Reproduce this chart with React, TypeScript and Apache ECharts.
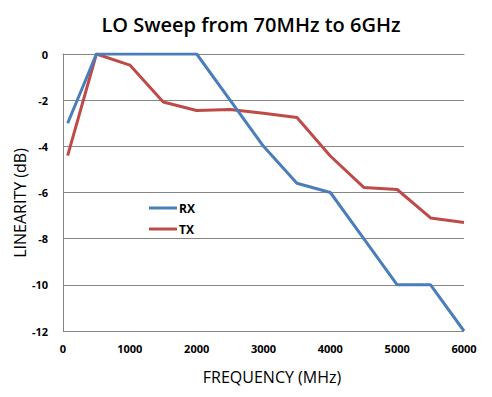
import React, { useEffect, useRef } from "react";
import * as echarts from "echarts";

const freqMHz = [70, 500, 1000, 1500, 2000, 2500, 3000, 3500, 4000, 4500, 5000, 5500, 6000];
const rxValues = [-3, 0, 0, 0, 0, -2, -4, -5.6, -6, -8, -10, -10, -12];
const txValues = [-4.4, 0, -0.48, -2.08, -2.45, -2.4, -2.57, -2.75, -4.42, -5.78, -5.87, -7.1, -7.3];
const seriesNames = ["RX", "TX"];
const title = "LO Sweep from 70MHz to 6GHz";
const xName = "FREQUENCY (MHz)";
const yName = "LINEARITY (dB)";

export default function App() {
  const ref = useRef<HTMLDivElement>(null);
  useEffect(() => {
    if (!ref.current) return;
    const chart = echarts.init(ref.current, undefined, { renderer: "svg" });
    const font = "'Open Sans', 'Liberation Sans', sans-serif";
    const mk = (vals: number[]) => freqMHz.map((f, i) => [f, vals[i]]);
    chart.setOption({
      animation: false,
      backgroundColor: "#fff",
      title: {
        text: title,
        left: 246,
        textAlign: "center",
        top: 9,
        textStyle: { fontFamily: font, fontSize: 20, fontWeight: 600, color: "#000" },
      },
      legend: {
        orient: "vertical",
        left: 149,
        top: 202,
        padding: 0,
        itemWidth: 28,
        itemHeight: 14,
        itemGap: 9,
        data: seriesNames.map((n) => ({ name: n, icon: "path://M0,6 L28,6 L28,9 L0,9 Z" })),
        textStyle: { fontFamily: font, fontSize: 12, fontWeight: "bold", color: "#000", padding: [0, 0, 0, -3] },
      },
      graphic: [
        {
          type: "text",
          x: 272,
          y: 377,
          style: {
            text: xName,
            fontFamily: font,
            fontSize: 16,
            fill: "#000",
            align: "center",
            verticalAlign: "middle",
          },
        },
        {
          type: "text",
          x: 19.5,
          y: 203,
          rotation: Math.PI / 2,
          style: {
            text: yName,
            fontFamily: font,
            fontSize: 16,
            fill: "#000",
            align: "center",
            verticalAlign: "middle",
          },
        },
      ],
      grid: { left: 63, right: 28, top: 54, bottom: 66, containLabel: false },
      xAxis: {
        type: "value",
        min: 0,
        max: 6000,
        interval: 1000,
        axisLine: { show: true, lineStyle: { color: "#868686" } },
        axisTick: { show: false },
        splitLine: { show: false },
        axisLabel: {
          fontFamily: font,
          fontSize: 11,
          fontWeight: "bold",
          color: "#000",
          margin: 12,
          formatter: (v: number) => String(v),
        },
      },
      yAxis: {
        type: "value",
        min: -12,
        max: 0,
        interval: 2,
        axisLine: { show: true, lineStyle: { color: "#868686" } },
        axisTick: { show: false },
        splitLine: { show: true, lineStyle: { color: "#868686", width: 1 } },
        axisLabel: { fontFamily: font, fontSize: 11, fontWeight: "bold", color: "#000", margin: 15 },
      },
      series: [
        {
          name: seriesNames[0],
          type: "line",
          data: mk(rxValues),
          showSymbol: false,
          symbol: "none",
          lineStyle: { color: "#4a7ebb", width: 3 },
          itemStyle: { color: "#4a7ebb" },
          z: 3,
        },
        {
          name: seriesNames[1],
          type: "line",
          data: mk(txValues),
          showSymbol: false,
          symbol: "none",
          lineStyle: { color: "#be4b48", width: 3 },
          itemStyle: { color: "#be4b48" },
          z: 2,
        },
      ],
    });
    return () => chart.dispose();
  }, []);
  return <div ref={ref} style={{ width: 492, height: 397, position: "absolute", left: 0, top: 0 }} />;
}
